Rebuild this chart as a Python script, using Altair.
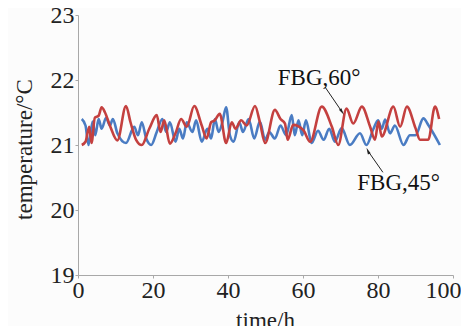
import altair as alt
import pandas as pd

# ---- data ----
red_t = [1, 2, 3, 3.6, 4.5, 5.5, 6.3, 7.2, 8.5, 10.5, 12.8, 14, 15.5, 17, 19, 21, 22, 23, 24.5,
         26, 27.5, 29, 31, 33, 34.3, 35.5, 36.5, 37.8, 39.5, 41, 42, 43.5, 45, 47.2, 48.5, 49.9,
         52.5, 54, 55.2, 55.9, 57.4, 60.1, 61.9, 65, 67.7, 69.4, 71.6, 73.4, 75.7, 77.9, 79.2,
         80.1, 81, 84.1, 85.9, 87.7, 90, 91.2, 93.4, 95.2, 96.3]
red_v = [21.00, 21.05, 21.28, 21.03, 21.42, 21.45, 21.58, 21.50, 21.30, 21.07, 21.60, 21.35, 21.08,
         21.00, 21.25, 21.46, 21.20, 21.38, 21.02, 21.18, 21.40, 21.28, 21.60, 21.30, 21.10, 21.35,
         21.38, 21.48, 21.03, 21.35, 21.25, 21.38, 21.30, 21.60, 21.35, 21.03, 21.54, 21.40, 21.33,
         21.08, 21.31, 21.23, 21.05, 21.59, 21.28, 21.00, 21.56, 21.33, 21.59, 21.28, 21.08, 21.36,
         21.13, 21.59, 21.28, 21.59, 21.26, 21.08, 21.08, 21.59, 21.40]

blue_t = [1, 2, 2.8, 3.9, 4.6, 5.5, 6.3, 7.5, 8.5, 9.3, 10.5, 12.8, 15, 16, 17, 18.2, 19.5, 21,
          22.5, 23.5, 24.5, 26, 27, 28, 29, 30.5, 31.5, 33, 34.5, 35.5, 36.5, 37.5, 38.5, 39.5,
          40.5, 41.5, 43, 44, 45.5, 47, 48.5, 49.9, 51, 52.5, 54, 55.5, 57, 57.8, 58.8, 59.8, 60.8,
          62.3, 64, 65.5, 67, 68.5, 70.3, 72.5, 75.2, 76.9, 78.8, 80, 81, 81.9, 83.2, 84.5, 86.8,
          88.5, 90, 92.1, 93.5, 96.5]
blue_v = [21.40, 21.30, 21.00, 21.36, 21.15, 21.40, 21.25, 21.42, 21.30, 21.40, 21.18, 21.03, 21.28,
          21.15, 21.35, 21.10, 21.00, 21.20, 21.40, 21.20, 21.35, 21.05, 21.25, 21.10, 21.35, 21.20,
          21.38, 21.05, 21.25, 21.10, 21.40, 21.20, 21.35, 21.58, 21.15, 21.05, 21.35, 21.20, 21.40,
          21.10, 21.36, 21.08, 21.20, 21.10, 21.30, 21.15, 21.46, 21.15, 21.38, 21.15, 21.38, 21.03,
          21.22, 21.08, 21.25, 21.05, 21.26, 21.00, 21.18, 21.00, 21.25, 21.38, 21.25, 21.39, 21.18,
          21.30, 21.00, 21.15, 21.15, 21.41, 21.30, 21.00]

series_names = ["FBG,45°", "FBG,60°"]
series_colors = ["#4a7cc3", "#c4403f"]

label_text = ["FBG,60°", "FBG,45°"]
label_t = [64.3, 85.5]
label_v = [22.03, 20.42]

arrow_t1 = [65.9, 81.3]
arrow_v1 = [21.89, 20.58]
arrow_t2 = [70.4, 77.3]
arrow_v2 = [21.51, 20.91]
arrow_angle = [147, 335]

x_ticks = [0, 20, 40, 60, 80, 100]
y_ticks = [19, 20, 21, 22, 23]

FONT = "Liberation Serif"

df = pd.concat([
    pd.DataFrame({"t": blue_t, "v": blue_v, "s": series_names[0]}),
    pd.DataFrame({"t": red_t, "v": red_v, "s": series_names[1]}),
])
labels = pd.DataFrame({"text": label_text, "t": label_t, "v": label_v})
arrows = pd.DataFrame({"t1": arrow_t1, "v1": arrow_v1, "t2": arrow_t2, "v2": arrow_v2,
                       "a": arrow_angle})

xs = alt.Scale(domain=[0, 100], nice=False)
ys = alt.Scale(domain=[19, 23], nice=False)

xax = alt.Axis(values=x_ticks, title="time/h", grid=False, tickSize=3, labelPadding=0,
               labelFontSize=24, titleFontSize=23, labelFont=FONT, titleFont=FONT, format="d",
               labelColor="#222222", titleColor="#222222", titleFontWeight="normal",
               domainColor="#a8a8a8", tickColor="#a8a8a8", labelBaseline="top",
               labelFlush=False, labelOverlap=False,
               labelAlign=alt.ExprRef(expr="datum.value == 100 ? 'right' : 'center'"),
               labelOffset=alt.ExprRef(expr="datum.value == 100 ? 8 : 0"),
               titleX=187, titleY=34, titleBaseline="top")
yax = alt.Axis(values=y_ticks, title="temperature/°C", grid=False, tickSize=3, labelPadding=1,
               labelFontSize=24, titleFontSize=23, labelFont=FONT, titleFont=FONT, format="d",
               labelColor="#222222", titleColor="#222222", titleFontWeight="normal",
               domainColor="#a8a8a8", tickColor="#a8a8a8", labelFlush=False,
               titleX=-54, titleY=134, titleBaseline="middle", titleAngle=-90)

lines = alt.Chart(df).mark_line(strokeWidth=2.6, interpolate="monotone").encode(
    x=alt.X("t:Q", scale=xs, axis=xax),
    y=alt.Y("v:Q", scale=ys, axis=yax),
    color=alt.Color("s:N", scale=alt.Scale(domain=series_names, range=series_colors), legend=None),
    detail="s:N",
)

texts = alt.Chart(labels).mark_text(font=FONT, fontSize=23, color="#111111",
                                    align="center", baseline="middle").encode(
    x=alt.X("t:Q", scale=xs), y=alt.Y("v:Q", scale=ys), text="text:N")

rules = alt.Chart(arrows).mark_rule(color="#222222", strokeWidth=1).encode(
    x=alt.X("t1:Q", scale=xs), y=alt.Y("v1:Q", scale=ys), x2="t2:Q", y2="v2:Q")

heads = alt.Chart(arrows).mark_point(shape="M0,-1L0.45,1L-0.45,1Z", filled=True, size=45,
                                     color="#222222", opacity=1).encode(
    x=alt.X("t2:Q", scale=xs), y=alt.Y("v2:Q", scale=ys), angle=alt.Angle("a:Q", scale=None))

chart = alt.layer(lines, rules, heads, texts).properties(
    width=375, height=260,
    autosize=alt.AutoSizeParams(type="none"),
    padding={"left": 70, "top": 7, "right": 8, "bottom": 52},
    background="#fcfcfc",
).configure_view(stroke=None)

chart.save("out.html", embed_options={"renderer": "svg", "actions": False})
